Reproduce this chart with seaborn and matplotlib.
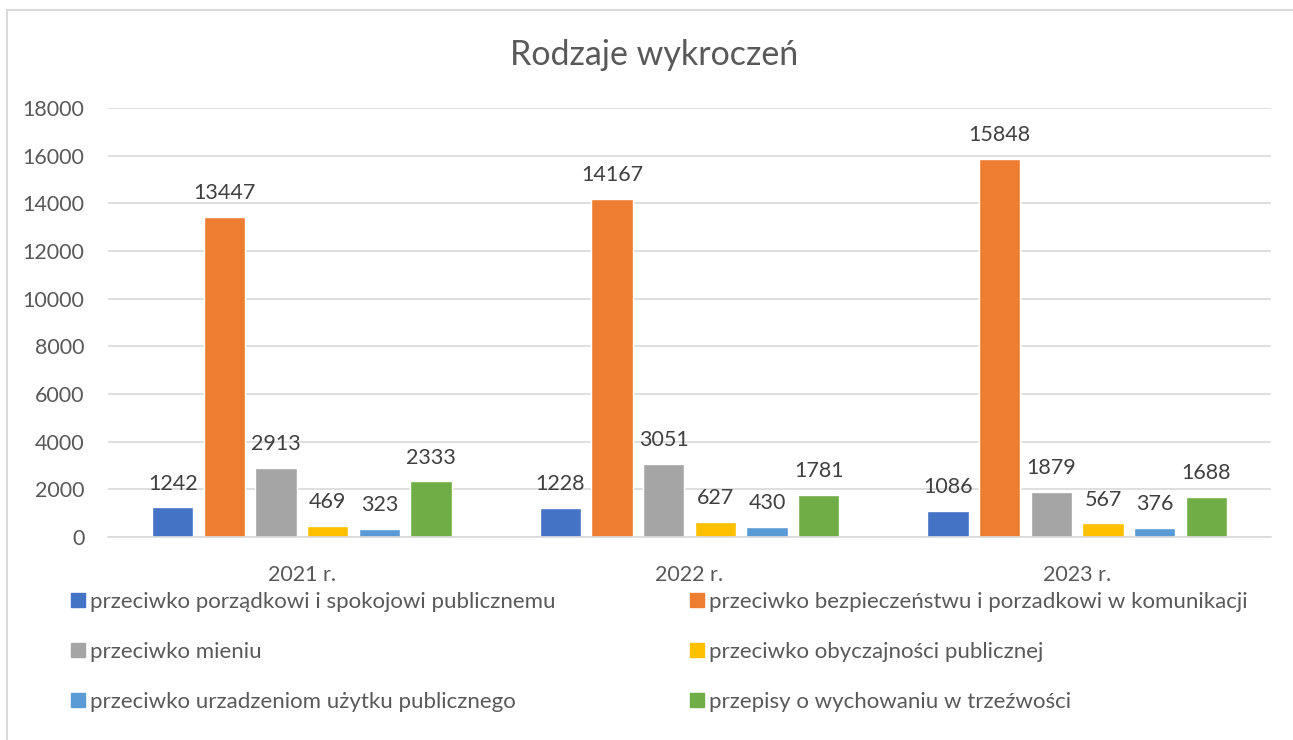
import pandas as pd
import seaborn as sns
from matplotlib import pyplot as plt
from matplotlib.lines import Line2D

years = ["2021 r.", "2022 r.", "2023 r."]
categories = [
    "przeciwko porządkowi i spokojowi publicznemu",
    "przeciwko bezpieczeństwu i porzadkowi w komunikacji",
    "przeciwko mieniu",
    "przeciwko obyczajności publicznej",
    "przeciwko urzadzeniom użytku publicznego",
    "przepisy o wychowaniu w trzeźwości",
]
values_2021 = [1242, 13447, 2913, 469, 323, 2333]
values_2022 = [1228, 14167, 3051, 627, 430, 1781]
values_2023 = [1086, 15848, 1879, 567, 376, 1688]
colors = ["#4472C4", "#ED7D31", "#A5A5A5", "#FFC000", "#5B9BD5", "#70AD47"]

rows = []
for year, vals in zip(years, [values_2021, values_2022, values_2023]):
    for cat, v in zip(categories, vals):
        rows.append({"Rok": year, "Kategoria": cat, "Liczba": v})
df = pd.DataFrame(rows)

sns.set_style("white")
plt.rcParams["font.family"] = ["Lato", "DejaVu Sans"]
text_color = "#595959"
grid_color = "#D9D9D9"

fig = plt.figure(figsize=(12.93, 7.40), dpi=100)
ax = fig.add_axes([108 / 1293, 1 - 537 / 740, (1271 - 108) / 1293, 429 / 740])

sns.barplot(data=df, x="Rok", y="Liczba", hue="Kategoria", order=years,
            hue_order=categories, palette=colors, width=0.8, gap=0.2,
            saturation=1, legend=False, ax=ax)

for cont in ax.containers:
    ax.bar_label(cont, padding=10, fontsize=15.5, color="#404040")

ax.set_ylim(0, 18000)
ax.set_yticks(range(0, 18001, 2000))
ax.yaxis.grid(True, color=grid_color, linewidth=1.2)
ax.set_axisbelow(True)
for side in ["top", "right", "left"]:
    ax.spines[side].set_visible(False)
ax.spines["bottom"].set_color(grid_color)
ax.spines["bottom"].set_linewidth(1.2)
ax.tick_params(axis="y", length=0, pad=17, labelsize=15.5, labelcolor=text_color)
ax.tick_params(axis="x", length=0, pad=20, labelsize=15.5, labelcolor=text_color)
ax.set_xlabel("")
ax.set_ylabel("")

fig.text(654 / 1293, 1 - 55 / 740, "Rodzaje wykroczeń", ha="center", va="center",
         fontsize=24.5, color=text_color)

handles = [Line2D([], [], marker="s", linestyle="", markersize=10,
                  markerfacecolor=c, markeredgecolor=c) for c in colors]
order = [0, 2, 4, 1, 3, 5]
fig.legend([handles[i] for i in order], [categories[i] for i in order],
           ncol=2, frameon=False, loc="upper left",
           bbox_to_anchor=(50 / 1293, 1 - 572 / 740),
           fontsize=16, labelcolor=text_color, handlelength=0.7,
           handletextpad=0.2, labelspacing=1.34, columnspacing=6.0)

# chart frame (top and left edges visible)
fig.add_artist(Line2D([7 / 1293, 1], [1 - 9.5 / 740, 1 - 9.5 / 740],
                      transform=fig.transFigure, color=grid_color, linewidth=1.5))
fig.add_artist(Line2D([7 / 1293, 7 / 1293], [0, 1 - 9.5 / 740],
                      transform=fig.transFigure, color=grid_color, linewidth=1.5))

fig.savefig("out.png", dpi=100)
